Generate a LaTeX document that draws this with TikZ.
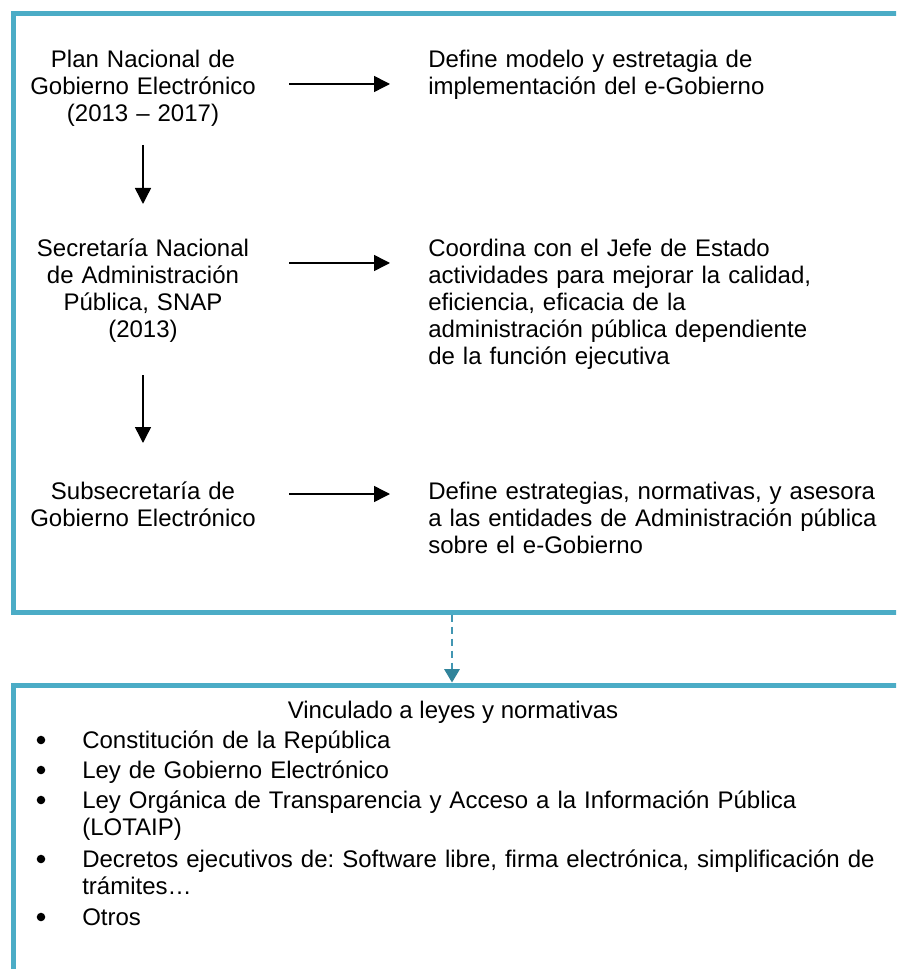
\documentclass[tikz,border=0pt]{standalone}
\usepackage{fontspec}
\setmainfont{Liberation Sans}
\usetikzlibrary{arrows.meta}
\definecolor{boxline}{RGB}{75,172,198}
\definecolor{dashline}{RGB}{66,150,178}
\definecolor{dashhead}{RGB}{49,132,155}
\tikzset{
  every node/.style={font=\fontsize{18pt}{20.25pt}\selectfont\frenchspacing, inner sep=0pt},
  leftlbl/.style={text width=180pt, align=center, anchor=base},
  rightlbl/.style={text width=352.5pt, align=left, anchor=base west},
  itemlbl/.style={text width=640pt, align=left, anchor=base west},
  bulletdot/.style={circle, fill=black, minimum size=6.4pt},
  frame/.style={draw=boxline, line width=3.75pt, anchor=north west, minimum width=672.75pt},
  arr/.style={-{Triangle[length=12pt,width=12pt]}, line width=1.1pt, shorten <=19.5pt, shorten >=28.5pt},
  varr/.style={-{Triangle[length=12pt,width=12pt]}, line width=1.1pt},
  dasharr/.style={draw=dashline, line width=1.5pt, dash pattern=on 5.25pt off 3.75pt,
    -{Triangle[length=10pt,width=11.5pt,color=dashhead]}}
}
\begin{document}
\begin{tikzpicture}[x=0.75pt,y=-0.75pt]
\useasboundingbox (0,0) rectangle (896,969);
\clip (0,0) rectangle (896,969);
% frames
\node[frame, minimum height=448.5pt] (topbox) at (10.5,11.5) {};
\node[frame, minimum height=236.25pt] (botbox) at (10.5,682.5) {};
% top content
\node[leftlbl] (plan) at (143,68) {Plan Nacional de\\Gobierno Electrónico\\(2013 – 2017)};
\node[rightlbl] (def) at (428,68) {Define modelo y estretagia de\\implementación del e-Gobierno};
\node[leftlbl] (snap) at (143,257) {Secretaría Nacional\\de Administración\\Pública, SNAP\\(2013)};
\node[rightlbl] (coord) at (428,257) {Coordina con el Jefe de Estado\\actividades para mejorar la calidad,\\eficiencia, eficacia de la\\administración pública dependiente\\de la función ejecutiva};
\node[leftlbl] (sub) at (143,499) {Subsecretaría de\\Gobierno Electrónico};
\node[rightlbl] (subdef) at (428,499) {Define estrategias, normativas, y asesora\\a las entidades de Administración pública\\sobre el e-Gobierno};
% arrows
\draw[arr] (plan.east |- 0,84) -- (def.west |- 0,84);
\draw[arr] (snap.east |- 0,263) -- (coord.west |- 0,263);
\draw[arr] (sub.east |- 0,494) -- (subdef.west |- 0,494);
\draw[varr] (plan.south |- 0,145) -- (snap.north |- 0,204);
\draw[varr] (snap.south |- 0,375) -- (sub.north |- 0,443);
% dashed link
\coordinate (dx) at (452,0);
\draw[dasharr] (topbox.south -| dx) -- (botbox.north -| dx);
% bottom content
\node[anchor=base] (vinc) at (453,718) {Vinculado a leyes y normativas};
\node[bulletdot] (b1) at (41,740) {};
\node[itemlbl] (i1) at (82,748) {Constitución de la República};
\node[bulletdot] (b2) at (41,770) {};
\node[itemlbl] (i2) at (82,778) {Ley de Gobierno Electrónico};
\node[bulletdot] (b3) at (41,800) {};
\node[itemlbl] (i3) at (82,808) {Ley Orgánica de Transparencia y Acceso a la Información Pública\\(LOTAIP)};
\node[bulletdot] (b4) at (41,859) {};
\node[itemlbl] (i4) at (82,867) {Decretos ejecutivos de: Software libre, firma electrónica, simplificación de\\trámites…};
\node[bulletdot] (b5) at (41,917) {};
\node[itemlbl] (i5) at (82,925) {Otros};
\end{tikzpicture}
\end{document}
